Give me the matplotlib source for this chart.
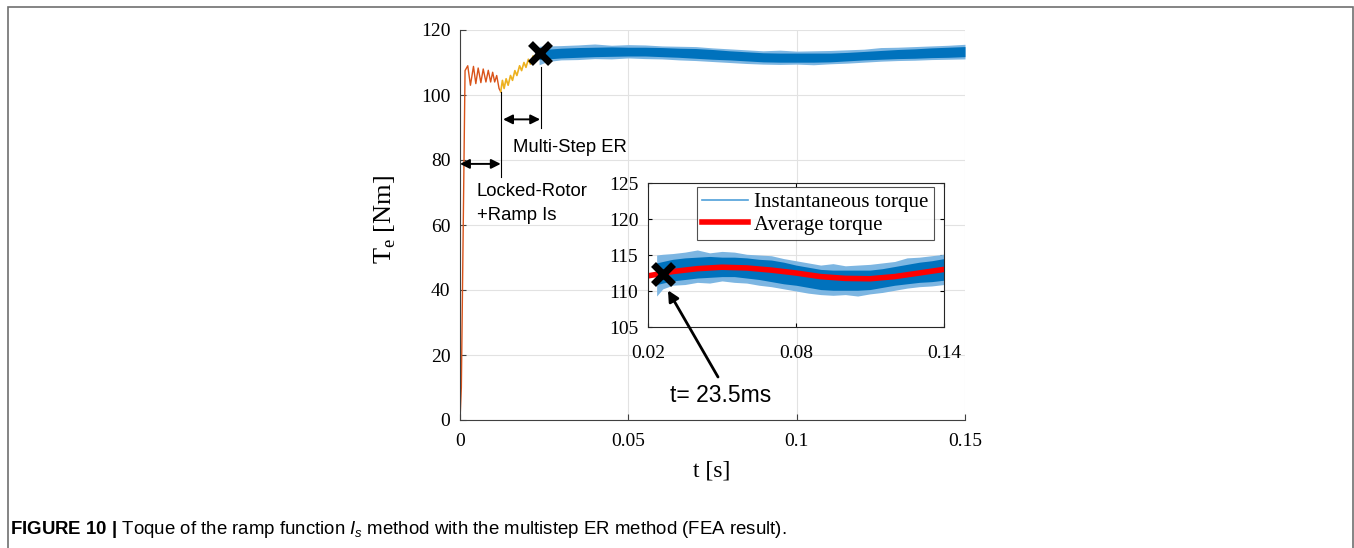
import matplotlib
matplotlib.use("Agg")
import matplotlib.pyplot as plt
from matplotlib.lines import Line2D
from matplotlib.patches import Rectangle

plt.rcParams["font.family"] = "Liberation Serif"
plt.rcParams["mathtext.fontset"] = "custom"
plt.rcParams["mathtext.rm"] = "Liberation Serif"
plt.rcParams["mathtext.it"] = "Liberation Sans:italic"
plt.rcParams["mathtext.bf"] = "Liberation Sans:bold"

# ---- data ----
# locked-rotor stage (orange)
t_lr = [0.0, 0.0004, 0.0015, 0.0023, 0.0031, 0.0040, 0.0047, 0.0054, 0.0062, 0.0069,
        0.0077, 0.0084, 0.0091, 0.0097, 0.0103, 0.0109, 0.0116, 0.0121]
T_lr = [0.0, 10.0, 107.5, 109.0, 103.0, 108.8, 103.5, 108.3, 103.8, 108.0,
        104.0, 107.6, 104.0, 107.0, 104.0, 106.0, 102.0, 101.0]
# multi-step ER stage (yellow)
t_er = [0.0121, 0.0126, 0.0131, 0.0137, 0.0143, 0.0150, 0.0156, 0.0163, 0.0169, 0.0177,
        0.0183, 0.0190, 0.0196, 0.0203, 0.0209, 0.0217, 0.0223, 0.0230, 0.0235]
T_er = [101.0, 104.5, 102.0, 105.0, 103.0, 106.0, 104.5, 107.5, 106.0, 109.0,
        107.5, 110.0, 108.5, 111.0, 109.5, 112.0, 110.5, 112.5, 112.0]
# steady state band of the instantaneous torque (blue)
t_env = [0.0235, 0.026, 0.030, 0.035, 0.040, 0.045, 0.050, 0.055, 0.060, 0.065,
         0.070, 0.075, 0.080, 0.085, 0.090, 0.095, 0.100, 0.105, 0.110, 0.115,
         0.120, 0.125, 0.130, 0.135, 0.140, 0.145, 0.150]
T_up = [113.9, 114.1, 114.4, 114.6, 114.7, 114.8, 114.7, 114.7, 114.6, 114.4,
        114.3, 114.0, 113.6, 113.3, 113.0, 112.9, 112.9, 112.9, 112.9, 113.1,
        113.4, 113.7, 114.0, 114.2, 114.5, 114.7, 114.9]
T_lo = [110.9, 111.1, 111.4, 111.6, 111.8, 111.9, 112.0, 112.0, 111.8, 111.6,
        111.3, 111.0, 110.8, 110.5, 110.2, 110.1, 110.1, 110.1, 110.2, 110.5,
        110.8, 111.0, 111.2, 111.3, 111.5, 111.6, 111.8]
T_spk_up = [115.0, 115.1, 115.2, 115.4, 115.7, 115.3, 115.5, 115.4, 115.1, 115.0,
            114.9, 114.5, 114.2, 113.9, 113.6, 113.8, 113.5, 113.6, 113.7, 113.9,
            114.1, 114.6, 114.7, 114.9, 115.1, 115.3, 115.6]
T_spk_lo = [109.3, 110.3, 110.8, 110.9, 111.2, 111.1, 111.4, 111.2, 111.1, 110.8,
            110.6, 110.3, 110.0, 109.7, 109.5, 109.4, 109.5, 109.3, 109.6, 109.8,
            110.1, 110.4, 110.6, 110.7, 110.9, 111.0, 111.1]
# average torque
t_avg = [0.020, 0.030, 0.040, 0.050, 0.060, 0.070, 0.080, 0.090, 0.100, 0.110, 0.120, 0.130, 0.140]
T_avg = [112.1, 112.7, 113.1, 113.3, 113.2, 112.9, 112.5, 112.0, 111.75, 111.7, 112.0, 112.5, 113.0]

x_ticks = [0, 0.05, 0.1, 0.15]
x_ticklabels = ["0", "0.05", "0.1", "0.15"]
y_ticks = [0, 20, 40, 60, 80, 100, 120]
in_xticks = [0.02, 0.08, 0.14]
in_yticks = [105, 110, 115, 120, 125]

BLUE = "#0072BD"
BLUE_LIGHT = "#7db6e2"
ORANGE = "#D95319"
YELLOW = "#EDB120"

fig = plt.figure(figsize=(13.54, 5.48), dpi=100)
W, H = 1354, 548

# frame around the figure
fig.add_artist(Rectangle((8 / W, -0.05), (1353 - 8) / W, 1.05 - 6.5 / H, transform=fig.transFigure,
                         fill=False, ec="#707070", lw=1.2))

# ---------- main axes ----------
ax = fig.add_axes([460 / W, 128 / H, 505 / W, 390 / H])
ax.fill_between(t_env, T_spk_lo, T_spk_up, color=BLUE_LIGHT, lw=0)
ax.fill_between(t_env, T_lo, T_up, color=BLUE, lw=0)
ax.plot(t_lr, T_lr, color=ORANGE, lw=1.0)
ax.plot(t_er, T_er, color=YELLOW, lw=1.2)
ax.plot(0.0238, 112.9, marker="x", ms=14, mew=5, color="k", zorder=5)

ax.set_xlim(0, 0.15)
ax.set_ylim(0, 120)
ax.set_xticks(x_ticks)
ax.set_xticklabels(x_ticklabels)
ax.set_yticks(y_ticks)
ax.grid(True, color="#e2e2e2", lw=0.8)
ax.set_axisbelow(True)
for s in ["top", "right"]:
    ax.spines[s].set_visible(False)
for s in ["left", "bottom"]:
    ax.spines[s].set_color("#404040")
ax.tick_params(direction="in", length=4, color="#404040", labelsize=14)
ax.tick_params(axis="x", pad=9)
ax.tick_params(axis="y", pad=7)
ax.set_xlabel("t [s]", fontsize=17)
ax.set_ylabel(r"T$_{\mathrm{e}}$ [Nm]", fontsize=19)
ax.xaxis.set_label_coords(0.499, -0.105)
ax.yaxis.set_label_coords(-0.123, 0.515)

# stage annotations
ax.plot([0.0121, 0.0121], [74.8, 101.0], color="k", lw=0.8)
ax.plot([0.0241, 0.0241], [89.8, 108.7], color="k", lw=0.8)
arrow_kw = dict(arrowstyle="<|-|>", color="k", lw=1.4, mutation_scale=14, shrinkA=0, shrinkB=0)
ax.annotate("", xy=(0.0, 78.8), xytext=(0.0121, 78.8), arrowprops=arrow_kw)
ax.annotate("", xy=(0.0128, 92.5), xytext=(0.0238, 92.5), arrowprops=arrow_kw)
ax.text(0.0157, 84.0, "Multi-Step ER", family="Liberation Sans", fontsize=13.3, va="center")
ax.text(0.0050, 70.2, "Locked-Rotor", family="Liberation Sans", fontsize=13.3, va="center")
ax.text(0.0050, 62.8, "+Ramp Is", family="Liberation Sans", fontsize=13.3, va="center")

# ---------- inset ----------
axin = fig.add_axes([648 / W, 221 / H, 296 / W, 144 / H])
axin.fill_between(t_env, T_spk_lo, T_spk_up, color=BLUE_LIGHT, lw=0)
axin.fill_between(t_env, T_lo, T_up, color=BLUE, lw=0)
axin.plot(t_avg, T_avg, color="#FF0000", lw=4)
axin.plot(0.0262, 112.4, marker="x", ms=14, mew=5, color="k", zorder=5)
axin.set_xlim(0.02, 0.14)
axin.set_ylim(105, 125)
axin.set_xticks(in_xticks)
axin.set_yticks(in_yticks)
axin.grid(True, color="#e2e2e2", lw=0.8)
axin.set_axisbelow(True)
for s in axin.spines.values():
    s.set_color("#262626")
axin.tick_params(direction="in", length=3, top=True, right=True, labelsize=14)
axin.tick_params(axis="x", pad=13)
axin.tick_params(axis="y", pad=7)

handles = [Line2D([], [], color="#4f9fd9", lw=1.2), Line2D([], [], color="#FF0000", lw=4)]
leg = axin.legend(handles, ["Instantaneous torque", "Average torque"], loc="upper right",
                  bbox_to_anchor=(0.966, 0.972), borderaxespad=0, fancybox=False,
                  fontsize=15, handlelength=2.2, handletextpad=0.3, labelspacing=0.15,
                  borderpad=0.25)
leg.get_frame().set_edgecolor("#262626")
leg.get_frame().set_linewidth(0.8)

axin.annotate("", xy=(0.0281, 110.1), xytext=(718, H - 377), textcoords="figure pixels",
              arrowprops=dict(arrowstyle="-|>", color="k", lw=2, mutation_scale=16, shrinkA=0, shrinkB=0),
              annotation_clip=False)
fig.text(670 / W, 1 - 395 / H, "t= 23.5ms", family="Liberation Sans", fontsize=16.5, va="center")

# caption
fig.text(10 / W, 1 - 530 / H,
         r"$\mathbf{FIGURE\ 10\ |}$ Toque of the ramp function $I_s$ method with the multistep ER method (FEA result).",
         family="Liberation Sans", fontsize=13.4, va="center")

fig.savefig("out.png", dpi=100)
